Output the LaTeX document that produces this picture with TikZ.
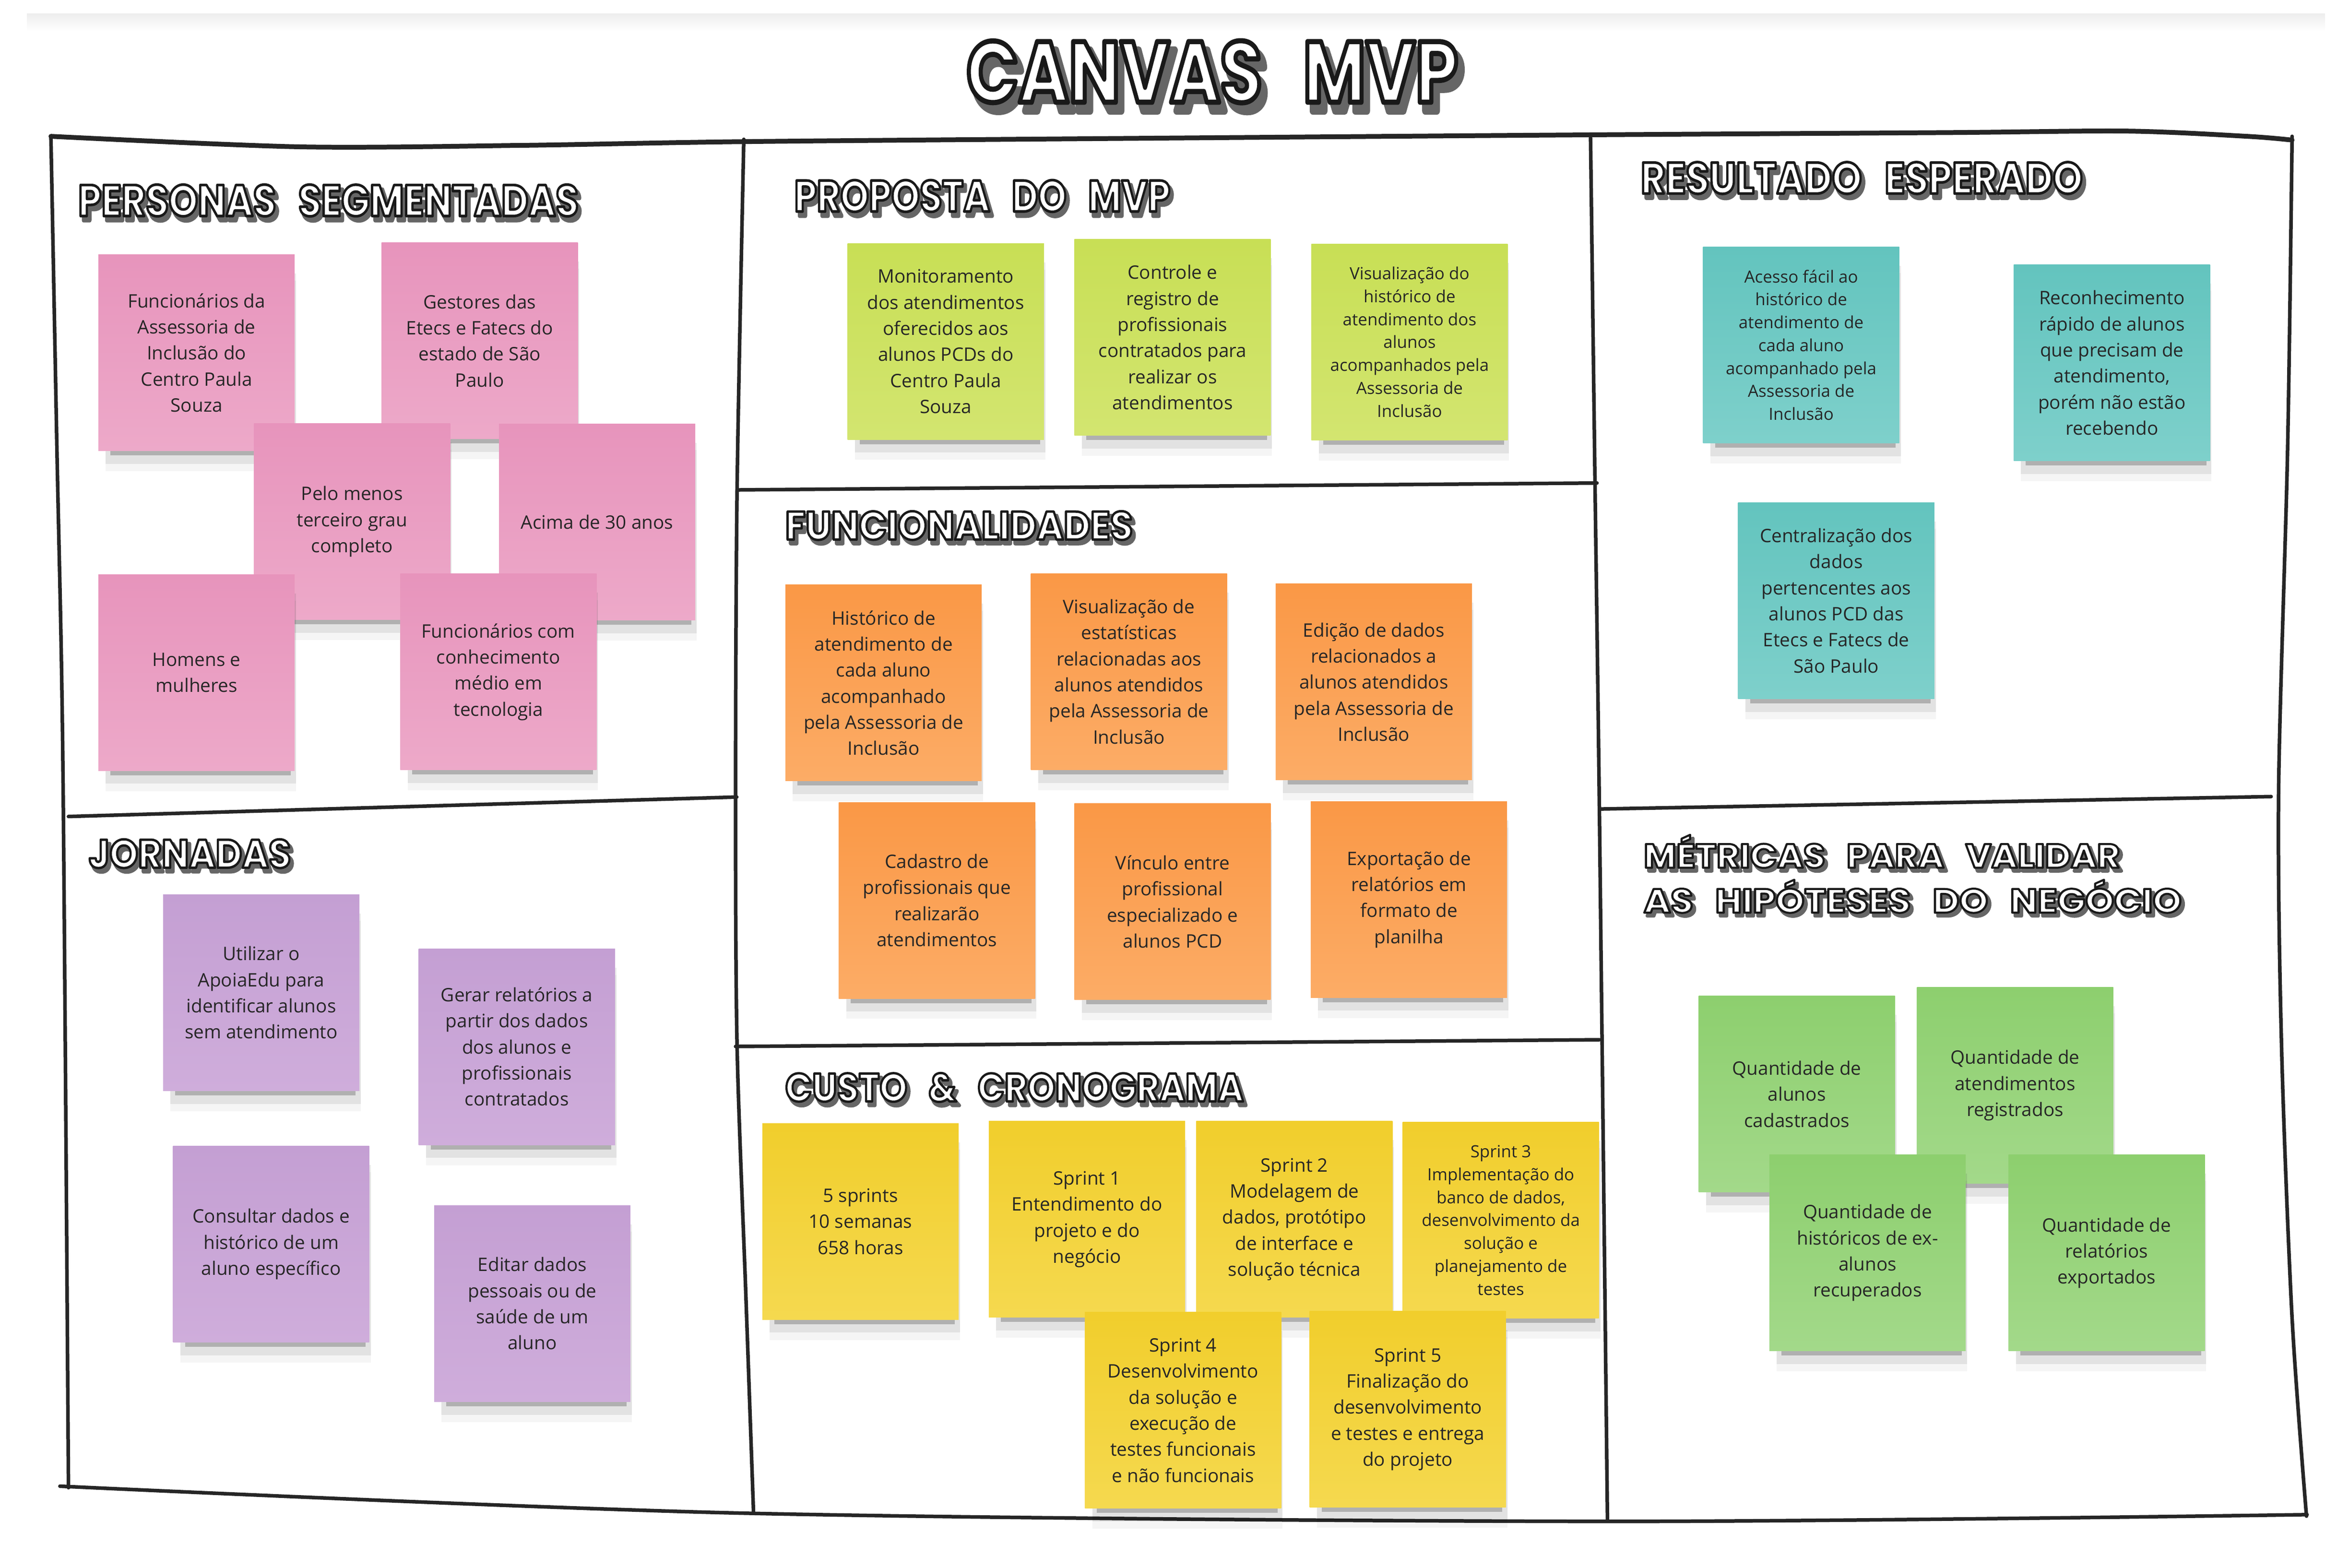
\documentclass[tikz,border=0pt]{standalone}
\usepackage{fontspec}
\setmainfont{Open Sans}
\newfontfamily\ttlfont{Poppins}
\usepackage{graphicx}
\usepackage{tikz}
\usetikzlibrary{shadows}

\definecolor{pinkT}{HTML}{E794BC}
\definecolor{pinkB}{HTML}{EDA9C9}
\definecolor{limeT}{HTML}{C8DF55}
\definecolor{limeB}{HTML}{D3E570}
\definecolor{orangeT}{HTML}{FA9846}
\definecolor{orangeB}{HTML}{FCAC66}
\definecolor{tealT}{HTML}{63C4BE}
\definecolor{tealB}{HTML}{7ED0CB}
\definecolor{lilacT}{HTML}{C49FD3}
\definecolor{lilacB}{HTML}{CFADDB}
\definecolor{yellowT}{HTML}{F1CE2C}
\definecolor{yellowB}{HTML}{F5D94F}
\definecolor{greenT}{HTML}{8DCF6E}
\definecolor{greenB}{HTML}{A3D98A}

\newcommand{\notefont}{\fontsize{12.4}{17.4}\selectfont}
\newcommand{\densefont}{\fontsize{11.2}{15.3}\selectfont}
% outlined hand-lettered titles (dark drop shadow, white fill, black stroke)
\newcommand{\ttlbox}[3]{\resizebox{#1}{#2}{\ttlfont\bfseries\spaceskip=0.6em%
    \rlap{\kern0.08em\raisebox{-0.1em}{\color{black!60}\special{pdf:literal direct 2 Tr 0.9 w 1 j}#3\special{pdf:literal direct 0 Tr}}}%
    {\color{white}\special{pdf:literal direct 0.1 G 2 Tr 0.6 w 1 j}#3\special{pdf:literal direct 0 Tr}}}}

\begin{document}
\begin{tikzpicture}[
    x=1pt, y=-1pt,
    sticky/.style={minimum width=131pt, minimum height=131pt, inner sep=2pt, align=center, text=black!85, font=\notefont,
        general shadow={fill=black, opacity=.04, shadow xshift=3pt, shadow yshift=-16pt, shadow scale=.97},
        general shadow={fill=black, opacity=.08, shadow xshift=3pt, shadow yshift=-11pt, shadow scale=.97},
        general shadow={fill=black, opacity=.22, shadow xshift=3pt, shadow yshift=-9pt, shadow scale=.92}},
    densenote/.style={font=\densefont},
    pinknote/.style={sticky, top color=pinkT, bottom color=pinkB},
    limenote/.style={sticky, top color=limeT, bottom color=limeB},
    orangenote/.style={sticky, top color=orangeT, bottom color=orangeB},
    tealnote/.style={sticky, top color=tealT, bottom color=tealB},
    lilacnote/.style={sticky, top color=lilacT, bottom color=lilacB},
    yellownote/.style={sticky, top color=yellowT, bottom color=yellowB},
    greennote/.style={sticky, top color=greenT, bottom color=greenB},
    title/.style={anchor=north west, inner sep=0pt},
    frame/.style={line width=2.4pt, line cap=round, line join=round, black!85}
]
    \useasboundingbox (0,0) rectangle (1568,1046.3);
    \shade[top color=black!7, bottom color=white] (18,9) rectangle (1552,21);

    % frame
    \draw[frame, line width=3.2pt] plot[smooth] coordinates {(34,91) (200,98) (350,97) (500,94.5) (800,92) (1060,90) (1300,88.5) (1420,87.5) (1500,91) (1530,93.5)};
    \draw[frame] plot[smooth] coordinates {(34,92) (38,300) (42,512) (45.7,993)};
    \draw[frame] plot[smooth] coordinates {(40,992) (496,1010) (1073,1015.5) (1540,1011)};
    \draw[frame] plot[smooth] coordinates {(1530,91) (1527,300) (1521,528) (1523,700) (1530,880) (1539.6,1012)};
    \draw[frame] plot[smooth] coordinates {(496.5,93) (492,327) (491,531) (492,698) (498,868) (503,1010)};
    \draw[frame] plot[smooth] coordinates {(1061.7,92) (1064.7,324) (1067.6,540) (1073,1015)};
    \draw[frame] (45.7,545) -- (491.8,532);
    \draw[frame] (492,327) -- (1066,322.4);
    \draw[frame] (491,698.5) -- (1067.6,694);
    \draw[frame] (1068,540) -- (1516,531.7);

    % titles
    \node[title] (canvasTitle) at (645,27) {\ttlbox{328pt}{41pt}{CANVAS MVP}};
    \node[title] (personasTitle) at (52,123) {\ttlbox{334pt}{21pt}{PERSONAS SEGMENTADAS}};
    \node[title] (propostaTitle) at (530,120) {\ttlbox{251pt}{21pt}{PROPOSTA DO MVP}};
    \node[title] (resultadoTitle) at (1095,108) {\ttlbox{295pt}{21pt}{RESULTADO ESPERADO}};
    \node[title] (funcTitle) at (524,341) {\ttlbox{232pt}{19pt}{FUNCIONALIDADES}};
    \node[title] (jornadasTitle) at (59,560) {\ttlbox{135pt}{19pt}{JORNADAS}};
    \node[title] (custoTitle) at (524,716) {\ttlbox{306pt}{19pt}{CUSTO \& CRONOGRAMA}};
    \node[title] (metricasTitleA) at (1097,557) {\ttlbox{318pt}{22pt}{MÉTRICAS PARA VALIDAR}};
    \node[title] (metricasTitleB) at (1097,587) {\ttlbox{359pt}{22pt}{AS HIPÓTESES DO NEGÓCIO}};

    % personas segmentadas
    \node[pinknote] (persFunc) at (131.2,235.4) {Funcionários da\\Assessoria de\\Inclusão do\\Centro Paula\\Souza};
    \node[pinknote] (persGest) at (320.2,227.4) {Gestores das\\Etecs e Fatecs do\\estado de São\\Paulo};
    \node[pinknote] (persGrau) at (235,348.2) {Pelo menos\\terceiro grau\\completo};
    \node[pinknote] (persIdade) at (398.6,348.4) {Acima de 30 anos};
    \node[pinknote] (persGenero) at (131.2,448.9) {Homens e\\mulheres};
    \node[pinknote] (persTec) at (332.7,448.5) {Funcionários com\\conhecimento\\médio em\\tecnologia};

    % proposta do mvp
    \node[limenote] (propMonit) at (631.3,227.9) {Monitoramento\\dos atendimentos\\oferecidos aos\\alunos PCDs do\\Centro Paula\\Souza};
    \node[limenote] (propControle) at (782.7,225.2) {Controle e\\registro de\\profissionais\\contratados para\\realizar os\\atendimentos};
    \node[limenote, densenote] (propHist) at (940.9,228.3) {Visualização do\\histórico de\\atendimento dos\\alunos\\acompanhados pela\\Assessoria de\\Inclusão};

    % funcionalidades
    \node[orangenote] (funcHist) at (589.8,455.8) {Histórico de\\atendimento de\\cada aluno\\acompanhado\\pela Assessoria de\\Inclusão};
    \node[orangenote] (funcEstat) at (753.6,448.3) {Visualização de\\estatísticas\\relacionadas aos\\alunos atendidos\\pela Assessoria de\\Inclusão};
    \node[orangenote] (funcEdicao) at (917,455.2) {Edição de dados\\relacionados a\\alunos atendidos\\pela Assessoria de\\Inclusão};
    \node[orangenote] (funcCadastro) at (625.4,601) {Cadastro de\\profissionais que\\realizarão\\atendimentos};
    \node[orangenote] (funcVinculo) at (782.7,601.9) {Vínculo entre\\profissional\\especializado e\\alunos PCD};
    \node[orangenote] (funcExport) at (940.5,600.4) {Exportação de\\relatórios em\\formato de\\planilha};

    % resultado esperado
    \node[tealnote, densenote] (resAcesso) at (1202.3,230.3) {Acesso fácil ao\\histórico de\\atendimento de\\cada aluno\\acompanhado pela\\Assessoria de\\Inclusão};
    \node[tealnote] (resReconh) at (1409.7,242.2) {Reconhecimento\\rápido de alunos\\que precisam de\\atendimento,\\porém não estão\\recebendo};
    \node[tealnote] (resCentral) at (1225.7,400.9) {Centralização dos\\dados\\pertencentes aos\\alunos PCD das\\Etecs e Fatecs de\\São Paulo};

    % jornadas
    \node[lilacnote] (jornUtilizar) at (174.4,662.6) {Utilizar o\\ApoiaEdu para\\identificar alunos\\sem atendimento};
    \node[lilacnote] (jornGerar) at (345,698.7) {Gerar relatórios a\\partir dos dados\\dos alunos e\\profissionais\\contratados};
    \node[lilacnote] (jornConsultar) at (181,830.5) {Consultar dados e\\histórico de um\\aluno específico};
    \node[lilacnote] (jornEditar) at (355.3,870.1) {Editar dados\\pessoais ou de\\saúde de um\\aluno};

    % custo e cronograma
    \node[yellownote] (custoTotal) at (574.4,815.3) {5 sprints\\10 semanas\\658 horas};
    \node[yellownote] (sprintOne) at (725.6,813.9) {Sprint 1\\Entendimento do\\projeto e do\\negócio};
    \node[yellownote] (sprintTwo) at (864,813.9) {Sprint 2\\Modelagem de\\dados, protótipo\\de interface e\\solução técnica};
    \node[yellownote, densenote] (sprintThree) at (1001.8,814.5) {Sprint 3\\Implementação do\\banco de dados,\\desenvolvimento da\\solução e\\planejamento de\\testes};
    \node[yellownote] (sprintFour) at (789.7,941.3) {Sprint 4\\Desenvolvimento\\da solução e\\execução de\\testes funcionais\\e não funcionais};
    \node[yellownote] (sprintFive) at (939.7,940.7) {Sprint 5\\Finalização do\\desenvolvimento\\e testes e entrega\\do projeto};

    % metricas
    \node[greennote] (metAlunos) at (1199.4,730.3) {Quantidade de\\alunos\\cadastrados};
    \node[greennote] (metAtend) at (1345.1,724.5) {Quantidade de\\atendimentos\\registrados};
    \node[greennote] (metHist) at (1246.6,836.3) {Quantidade de\\históricos de ex-\\alunos\\recuperados};
    \node[greennote] (metRelat) at (1406.2,836.3) {Quantidade de\\relatórios\\exportados};
\end{tikzpicture}
\end{document}
